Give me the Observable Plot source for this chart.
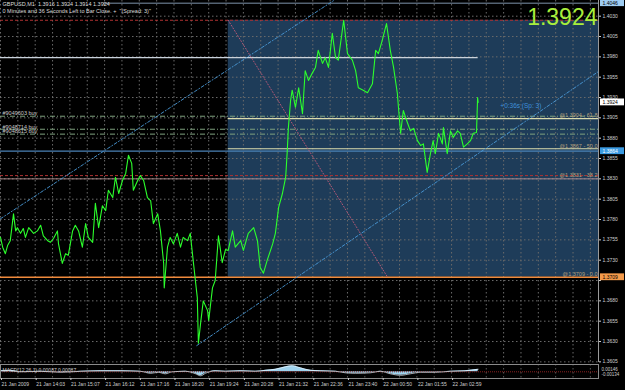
<!DOCTYPE html>
<html><head><meta charset="utf-8">
<script src="https://cdn.jsdelivr.net/npm/d3@7"></script>
<script src="https://cdn.jsdelivr.net/npm/@observablehq/plot@0.6"></script>
<style>html,body{margin:0;padding:0;background:#000;overflow:hidden}#chart svg{display:block}</style>
</head><body><div id="chart"></div>
<script>
// ---- data (bar index on x, price on y) ----
const priceIdx = [0,4,9,13,18,24,28,31,37,42,46,52,61,68,74,79,87,92,98,105,107,114,120,125,133,138,144,151,157,162,170,175,181,188,194,199,207,212,218,225,231,236,242,245,253,258,264,271,277,282,290,295,301,302,308,313,319,326,332,337,345,350,356,363,365,369,374,382,384,391,396,402,409,415,420,428,433,443,448,457,467,474,479,485,492,502,507,513,520,526,529,531,535,538,544,550,557,562,568,575,581,586,594,599,605,612,618,623,633,640,649,655,660,669,677,686,692,697,704,712,719,725,732,734,738,743,749,756,762,769,775,780,787,793,798,802,808,815,817,824,830,835,843,848,854,861,867,872,878,880,881];
const priceClose = [1.3758,1.3746,1.3738,1.3748,1.3754,1.3787,1.3766,1.3770,1.3763,1.3769,1.3758,1.3770,1.3763,1.3766,1.3773,1.3760,1.3754,1.3752,1.3757,1.3766,1.3750,1.3726,1.3738,1.3736,1.3766,1.3773,1.3766,1.3746,1.3775,1.3758,1.3752,1.3800,1.3770,1.3797,1.3791,1.3816,1.3807,1.3832,1.3812,1.3828,1.3837,1.3859,1.3849,1.3816,1.3828,1.3834,1.3828,1.3807,1.3803,1.3775,1.3787,1.3766,1.3726,1.3696,1.3746,1.3758,1.3750,1.3763,1.3746,1.3758,1.3754,1.3763,1.3726,1.3684,1.3628,1.3652,1.3680,1.3668,1.3656,1.3696,1.3705,1.3760,1.3727,1.3743,1.3742,1.3766,1.3746,1.3754,1.3742,1.3763,1.3770,1.3754,1.3721,1.3714,1.3730,1.3750,1.3763,1.3795,1.3812,1.3832,1.3865,1.3893,1.3926,1.3939,1.3918,1.3942,1.3910,1.3963,1.3951,1.3960,1.3967,1.3988,1.3972,1.3979,1.3967,1.4009,1.3979,1.3976,1.4025,1.3984,1.3976,1.3963,1.3942,1.3939,1.3936,1.3947,1.3988,1.3984,1.4000,1.4021,1.3988,1.3967,1.3935,1.3918,1.3886,1.3914,1.3902,1.3889,1.3892,1.3877,1.3871,1.3873,1.3838,1.3861,1.3877,1.3861,1.3886,1.3873,1.3893,1.3861,1.3889,1.3881,1.3889,1.3886,1.3869,1.3873,1.3877,1.3886,1.3887,1.3930,1.3924];

const macdIdx = [0,18,37,74,111,148,184,221,258,277,291,304,317,341,360,369,378,396,415,443,470,489,507,526,538,553,572,590,618,636,655,682,701,719,738,756,775,802,830,857,881];
const macdVal = [0.0002,0.0003,0.0000,0.0001,-0.0001,0.0001,0.0002,0.0002,0.0001,-0.0003,-0.0001,-0.0004,0.0000,0.0001,-0.0004,-0.0008,-0.0003,0.0002,0.0001,0.0002,0.0001,0.0003,0.0005,0.0010,0.0012,0.0008,0.0003,0.0002,0.0001,-0.0002,-0.0003,-0.0002,0.0001,-0.0004,-0.0007,-0.0004,-0.0001,-0.0001,0.0001,0.0002,0.0005];

const xTickIdx = [0,64,128,192,256,320,384,448,512,576,640,704,768,832];
const xTickLabels = ["21 Jan 2009","21 Jan 14:03","21 Jan 15:07","21 Jan 16:12","21 Jan 17:16","21 Jan 18:20","21 Jan 19:24","21 Jan 20:28","21 Jan 21:32","21 Jan 22:36","21 Jan 23:40","22 Jan 00:50","22 Jan 01:55","22 Jan 02:59"];
const yTicks = [1.4030,1.4005,1.3980,1.3955,1.3930,1.3905,1.3880,1.3855,1.3830,1.3805,1.3780,1.3755,1.3730,1.3705,1.3680,1.3655,1.3630,1.3605];
const yTicksHidden = [1.3705]; // covered by the orange price tag in the reference

const rectIdx = [420, 1103];
const rectPrice = [1.3709, 1.4025];
const redDashedLevels = [1.4025, 1.3834];
const pinkLevel = [1.3830];
const blueLevel = [1.3864];
const orangeLevel = [1.3709];
const whiteLevel = [1.3979];
const whiteLevelIdx = [0, 881];
const topLevel = [1.4046];
const topLevelIdx = [190, 1103];
const orderPrice = [1.3907, 1.3891, 1.3885];
const orderLabels = ["#9049603 buy", "#9048714 buy", "#9048615 buy"];
const fibPrice = [1.3904, 1.3867, 1.3831, 1.3709];
const fibLabels = ["@1.3904 - 61.8", "@1.3867 - 50.0", "@1.3831 - 38.2", "@1.3709 - 0.0"];
const fibStartIdx = 420;
const chanLowerIdx = [362, 1103], chanLowerPrice = [1.3625, 1.3962];
const chanUpperIdx = [0, 614], chanUpperPrice = [1.3781, 1.4049];
const fibTrendIdx = [420, 714], fibTrendPrice = [1.4025, 1.3709];
const tagPrice = [1.4046, 1.3924, 1.3864, 1.3709];
const tagText = ["1.4046", "1.3924", "1.3864", "1.3709"];
const header1 = "GBPUSD,M1  1.3916 1.3924 1.3914 1.3924";
const header2 = "0 Minutes and 36 Seconds Left to Bar Close. +  \"(Spread: 3)\"";
const bigPrice = "1.3924";
const spreadText = "+0:36s (Sp: 3)";
const spreadAt = {idx: 922, price: 1.3920};
const macdLabel = "MACD(12,26,1) 0.00087 0.00087";
const macdScaleLabels = ["0.00146", "-0.00134"];

// ---- styles ----
const X_MAX = 1103, Y_MIN = 1.36042, Y_MAX = 1.40493;
const FONT = "'Liberation Sans', Arial, sans-serif";
const tagFill = ["#9fcdf2", "#ffffff", "#3b9be2", "#f39a4a"];
const tagInk = ["#000", "#000", "#fff", "#000"];
const xGrid = d3.range(0, X_MAX, 32);

const pts = (xs, ys) => xs.map((x, i) => ({x, y: ys[i]}));
const price = pts(priceIdx, priceClose);
const macd = pts(macdIdx, macdVal);

const main = Plot.plot({
  width: 625, height: 363,
  marginLeft: 0, marginRight: 27, marginTop: 0, marginBottom: 1,
  style: {background: "#000", fontFamily: FONT},
  x: {domain: [0, X_MAX], axis: null},
  y: {domain: [Y_MIN, Y_MAX], axis: null},
  color: {type: "identity"},
  marks: [
    Plot.rect([0], {x1: [rectIdx[0]], x2: [rectIdx[1]], y1: [rectPrice[0]], y2: [rectPrice[1]], fill: "#1e3c59"}),
    Plot.gridX(xGrid, {stroke: "#6a6a6a", strokeOpacity: 1, strokeDasharray: "1.5,2.5"}),
    Plot.gridY(yTicks, {stroke: "#6a6a6a", strokeOpacity: 1, strokeDasharray: "1.5,2.5"}),
    Plot.ruleY(topLevel, {x1: topLevelIdx[0], x2: topLevelIdx[1], stroke: "#7d93ab"}),
    Plot.ruleY(redDashedLevels, {stroke: "#b03232", strokeDasharray: "3,2"}),
    Plot.ruleY(pinkLevel, {stroke: "#c8a0a0", strokeWidth: 0.8}),
    Plot.ruleY(whiteLevel, {x1: whiteLevelIdx[0], x2: whiteLevelIdx[1], stroke: "#c9d2dc", strokeWidth: 1.3}),
    Plot.ruleY(orderPrice, {stroke: "#7fa27f", strokeDasharray: "5,2,1,2"}),
    Plot.ruleY(fibPrice.slice(0, 2), {x1: fibStartIdx, x2: X_MAX, stroke: "#dcdcae", strokeWidth: 1.2}),
    Plot.ruleY(blueLevel, {stroke: "#4a82b6", strokeWidth: 1.2}),
    Plot.ruleY(orangeLevel, {stroke: "#f08a3c", strokeWidth: 1.6}),
    Plot.line(pts(chanUpperIdx, chanUpperPrice), {x: "x", y: "y", stroke: "#4a9ad8", strokeWidth: 0.9, strokeDasharray: "3,2,1,2", clip: true}),
    Plot.line(pts(chanLowerIdx, chanLowerPrice), {x: "x", y: "y", stroke: "#4a9ad8", strokeWidth: 0.9, strokeDasharray: "3,2,1,2", clip: true}),
    Plot.line(pts(fibTrendIdx, fibTrendPrice), {x: "x", y: "y", stroke: "#c45a78", strokeWidth: 0.9, strokeDasharray: "1,2"}),
    Plot.line(price, {x: "x", y: "y", stroke: "#2cff2c", strokeWidth: 1.1}),
    Plot.text(orderPrice, {x: 0, y: d => d, text: (d, i) => orderLabels[i], dx: 2, dy: -2.5, textAnchor: "start", fontSize: 5.5, fill: "#c8c8c8"}),
    Plot.text(fibPrice, {x: X_MAX, y: d => d, text: (d, i) => fibLabels[i], dx: -1, dy: -3, textAnchor: "end", fontSize: 5.5, fill: "#b4a07e"}),
    Plot.text([spreadText], {x: spreadAt.idx, y: spreadAt.price, textAnchor: "start", fontSize: 6.5, fill: "#3f8fd8"}),
    Plot.text([header1], {frameAnchor: "top-left", dx: 2, dy: 2, lineAnchor: "top", textAnchor: "start", fontSize: 5.5, fill: "#dcdcdc"}),
    Plot.text([header2], {frameAnchor: "top-left", dx: 2, dy: 9, lineAnchor: "top", textAnchor: "start", fontSize: 5.5, fill: "#dcdcdc"}),
    Plot.text([bigPrice], {frameAnchor: "top-right", dx: -1, dy: 8, lineAnchor: "top", textAnchor: "end", fontSize: 23, fill: "#a8ef3c"}),
    Plot.ruleX([X_MAX], {stroke: "#9a9a9a"}),
    Plot.axisY({ticks: yTicks, anchor: "right", tickSize: 2, tickPadding: 2, fontSize: 5, color: "#d0d0d0",
      tickFormat: d => yTicksHidden.includes(d) ? "" : d.toFixed(4), label: null}),
    Plot.rect(tagPrice, {x1: X_MAX, x2: X_MAX, y1: d => d - 0.00042, y2: d => d + 0.00042, insetLeft: 2, insetRight: -26, fill: (d, i) => tagFill[i]}),
    Plot.text(tagPrice, {x: X_MAX, y: d => d, text: (d, i) => tagText[i], dx: 4, textAnchor: "start", fontSize: 5, fill: (d, i) => tagInk[i]})
  ]
});

const sub = Plot.plot({
  width: 625, height: 27,
  marginLeft: 0, marginRight: 27, marginTop: 1, marginBottom: 12,
  style: {background: "#000", fontFamily: FONT},
  x: {domain: [0, X_MAX], axis: null},
  y: {domain: [-0.00134, 0.00146], axis: null},
  marks: [
    Plot.gridX(xGrid, {stroke: "#5a5a5a", strokeOpacity: 1, strokeDasharray: "1.5,2.5"}),
    Plot.areaY(macd, {x: "x", y: "y", fill: "#9fd3ee", curve: "monotone-x"}),
    Plot.ruleY([0], {stroke: "#8a2222", strokeDasharray: "1,1"}),
    Plot.lineY(macd, {x: "x", y: "y", stroke: "#eef7ff", strokeWidth: 0.7, curve: "monotone-x"}),
    Plot.frame({stroke: "#8a8a8a"}),
    Plot.text([macdLabel], {frameAnchor: "left", dx: 2, dy: -1, textAnchor: "start", fontSize: 5, fill: "#cfcfcf"}),
    Plot.text([macdScaleLabels[0]], {frameAnchor: "top-right", dx: 3, dy: 3, textAnchor: "start", fontSize: 4.5, fill: "#cfcfcf"}),
    Plot.text([macdScaleLabels[1]], {frameAnchor: "bottom-right", dx: 3, dy: -3, textAnchor: "start", fontSize: 4.5, fill: "#cfcfcf"}),
    Plot.axisX({ticks: xTickIdx, anchor: "bottom", tickSize: 2, tickPadding: 2, fontSize: 5, color: "#cfcfcf", textAnchor: "start", dx: 1, tickFormat: d => xTickLabels[xTickIdx.indexOf(d)], label: null})
  ]
});

document.getElementById("chart").append(main, sub);
</script></body></html>
